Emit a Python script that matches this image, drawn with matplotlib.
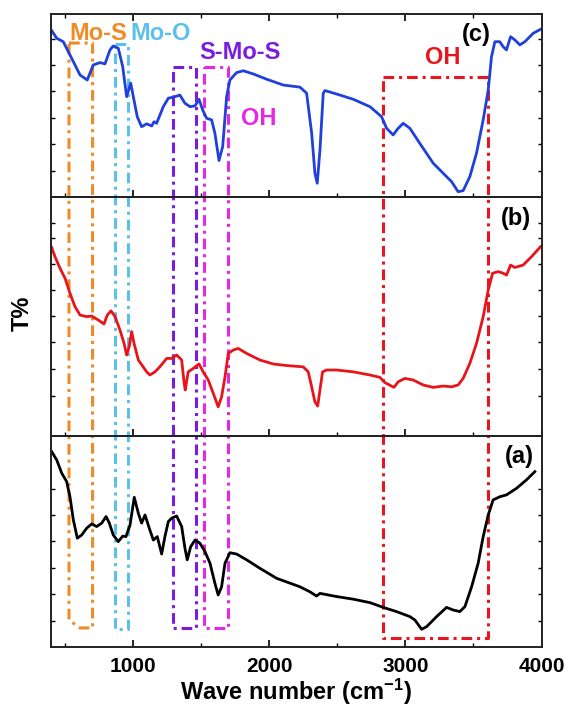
"""FTIR spectra (a), (b), (c) stacked, with band assignment boxes."""

import matplotlib

matplotlib.use("Agg")  # headless
import matplotlib.pyplot as plt  # noqa: E402
from matplotlib.lines import Line2D  # noqa: E402

plt.rcParams["font.family"] = ["Liberation Sans", "DejaVu Sans"]
plt.rcParams["font.weight"] = "bold"
plt.rcParams["axes.labelweight"] = "bold"
plt.rcParams["mathtext.default"] = "regular"

# --- spectrum (c), blue: wavenumber / transmittance (arb. units)
c_wn = [405, 442, 490, 539, 613, 666, 710, 760, 796, 833, 857, 894, 926, 955,
        985, 1004, 1033, 1065, 1102, 1139, 1156, 1175, 1224, 1261, 1297, 1346,
        1383, 1420, 1457, 1486, 1513, 1542, 1579, 1603, 1633, 1660, 1689, 1713,
        1762, 1811, 1884, 1983, 2104, 2227, 2276, 2313, 2337, 2354, 2374, 2398,
        2410, 2496, 2618, 2741, 2826, 2863, 2911, 2948, 2985, 3034, 3107, 3205,
        3278, 3340, 3388, 3425, 3474, 3523, 3572, 3609, 3633, 3658, 3694, 3719,
        3743, 3773, 3804, 3841, 3878, 3939, 3993]
c_t = [6.30, 6.01, 5.88, 5.38, 4.62, 4.43, 5.00, 5.09, 5.04, 5.57, 5.72, 5.63,
       4.94, 3.80, 4.31, 3.80, 3.04, 2.66, 2.77, 2.69, 2.85, 2.79, 3.42, 3.74,
       3.78, 3.86, 3.55, 3.42, 3.45, 3.70, 3.30, 2.98, 2.92, 2.41, 1.38, 1.91,
       3.80, 4.43, 4.71, 4.78, 4.66, 4.46, 4.24, 4.16, 3.93, 2.42, 0.90, 0.52,
       1.78, 3.93, 4.03, 3.90, 3.70, 3.42, 3.04, 2.60, 2.35, 2.60, 2.79, 2.60,
       2.03, 1.28, 0.90, 0.58, 0.20, 0.24, 0.77, 1.66, 2.92, 4.05, 5.31, 5.88,
       5.88, 5.69, 5.57, 6.07, 5.95, 5.76, 5.88, 6.20, 6.35]

# --- spectrum (b), red
b_wn = [405, 429, 466, 503, 539, 576, 613, 662, 699, 747, 789, 813, 840, 870,
        906, 936, 955, 974, 992, 1009, 1041, 1102, 1126, 1163, 1200, 1249, 1286,
        1322, 1359, 1376, 1385, 1407, 1444, 1486, 1517, 1554, 1591, 1627, 1652,
        1677, 1701, 1738, 1774, 1836, 1933, 2031, 2129, 2251, 2288, 2313, 2337,
        2357, 2374, 2393, 2423, 2496, 2618, 2741, 2814, 2851, 2917, 2948, 2997,
        3058, 3132, 3205, 3278, 3340, 3388, 3425, 3474, 3523, 3572, 3609, 3641,
        3682, 3719, 3743, 3773, 3804, 3865, 3927, 3993]
b_t = [7.17, 6.82, 6.38, 6.00, 5.43, 4.92, 4.60, 4.54, 4.56, 4.41, 4.26, 4.60,
       4.76, 4.54, 4.03, 3.53, 3.08, 3.40, 3.97, 3.53, 2.89, 2.44, 2.32, 2.44,
       2.64, 2.95, 2.95, 3.08, 2.89, 2.06, 1.75, 2.44, 2.57, 2.74, 2.44, 2.13,
       1.62, 1.11, 1.49, 2.25, 3.14, 3.27, 3.33, 3.14, 2.89, 2.74, 2.68, 2.63,
       2.44, 1.87, 1.30, 1.14, 1.75, 2.44, 2.51, 2.51, 2.44, 2.32, 2.23, 2.03,
       1.85, 2.06, 2.19, 2.13, 1.94, 1.85, 1.90, 1.87, 1.94, 2.19, 2.76, 3.52,
       4.54, 5.55, 6.19, 6.25, 6.19, 6.12, 6.50, 6.41, 6.50, 6.82, 7.20]

# --- spectrum (a), black
a_wn = [405, 442, 479, 515, 539, 564, 593, 625, 662, 699, 735, 772, 804, 828,
        857, 894, 926, 950, 980, 1011, 1041, 1065, 1090, 1121, 1151, 1180, 1212,
        1236, 1261, 1286, 1322, 1359, 1383, 1400, 1425, 1457, 1493, 1530, 1567,
        1603, 1627, 1652, 1677, 1713, 1762, 1836, 1933, 2056, 2227, 2300, 2349,
        2374, 2496, 2618, 2741, 2838, 2936, 3034, 3071, 3120, 3157, 3230, 3303,
        3352, 3401, 3438, 3487, 3535, 3572, 3609, 3645, 3694, 3743, 3817, 3890,
        3951]
a_t = [7.40, 7.08, 6.58, 6.26, 5.69, 4.81, 4.12, 4.24, 4.50, 4.66, 4.56, 4.69,
       4.94, 4.69, 4.24, 3.99, 4.20, 4.18, 4.62, 5.67, 5.06, 4.69, 5.00, 4.50,
       4.05, 4.18, 3.52, 4.18, 4.75, 4.88, 4.96, 4.56, 3.74, 3.30, 3.80, 4.05,
       3.93, 3.61, 3.17, 2.41, 1.97, 2.28, 3.17, 3.57, 3.52, 3.30, 2.98, 2.60,
       2.28, 2.09, 1.93, 2.03, 1.91, 1.81, 1.68, 1.50, 1.34, 1.15, 1.02, 0.67,
       0.77, 1.15, 1.50, 1.40, 1.34, 1.53, 2.28, 3.17, 4.18, 5.00, 5.57, 5.69,
       5.76, 6.01, 6.33, 6.64]

# y ticks of each panel (unlabelled, as in the original)
c_yticks = [1, 2, 3, 4, 5, 6]
b_yticks = [1.52, 2.55, 3.57, 4.56, 5.55, 6.54, 7.53, 8.10]
a_yticks = [1, 2, 3, 4, 5, 6]

# band assignment boxes: wavenumber span, top in panel (c), bottom in panel (a)
box_names = ["Mo-S", "Mo-O", "S-Mo-S", "OH", "OH"]
box_left = [532, 866, 1296, 1520, 2836]
box_right = [705, 963, 1462, 1700, 3606]
box_top = [5.83, 5.80, 4.92, 4.92, 4.55]
box_bottom = [0.72, 0.68, 0.72, 0.72, 0.34]
# the Mo-S box has a slanted lower-left corner
box_corner_wn = [613, 866, 1296, 1520, 2836]
box_corner_t = [1.02, 0.68, 0.72, 0.72, 0.34]
box_colors = ["#F08A24", "#5BC0EB", "#7A1CE0", "#E628E6", "#E8141E"]
# label anchor (wavenumber, panel (c) units)
label_wn = [745, 1205, 1787, 1926, 3276]
label_t = [6.21, 6.21, 5.49, 2.99, 5.30]

L, W = 0.0895, 0.8605
DASHDOT = (0, (3.5, 1.6, 1, 1.6))


def _style(ax, ylim, yticks, top=False, labels=False):
    ax.set_facecolor("none")
    ax.set_xlim(400, 4000)
    ax.set_ylim(*ylim)
    ax.set_yticks(yticks)
    ax.set_xticks([1000, 2000, 3000, 4000])
    ax.set_xticks([500, 1500, 2500, 3500], minor=True)
    ax.tick_params(axis="y", which="both", direction="in", left=True,
                   right=True, length=3, width=1, labelleft=False)
    ax.tick_params(axis="x", which="major", direction="in", length=5,
                   width=1.2, top=top, bottom=True, labelbottom=labels,
                   labelsize=15, pad=7)
    ax.tick_params(axis="x", which="minor", direction="in", length=3,
                   width=1, top=top, bottom=True)
    for s in ax.spines.values():
        s.set_linewidth(1.4)
        s.set_color("#222222")


fig = plt.figure(figsize=(5.7, 7.07), dpi=100)
ax_c = fig.add_axes([L, 0.7214, W, 0.2588])
ax_b = fig.add_axes([L, 0.3833, W, 0.3381])
ax_a = fig.add_axes([L, 0.0849, W, 0.2984])

ax_c.plot(c_wn, c_t, color="#2040DC", lw=2.0)
ax_b.plot(b_wn, b_t, color="#E8141A", lw=2.0)
ax_a.plot(a_wn, a_t, color="black", lw=2.0)

_style(ax_c, (0, 6.93), c_yticks, top=True)
_style(ax_b, (0, 9.09), b_yticks)
_style(ax_a, (0, 7.99), a_yticks, labels=True)

ax_a.set_xlabel("Wave number (cm$^{-1}$)", fontsize=17, labelpad=1)
fig.text(22 / 570, 1 - 313 / 707, "T%", rotation=90, fontsize=17,
         ha="center", va="center")

ax_c.text(3522, 6.14, "(c)", fontsize=17, ha="center", va="center")
ax_b.text(3815, 8.29, "(b)", fontsize=17, ha="center", va="center")
ax_a.text(3834, 7.20, "(a)", fontsize=17, ha="center", va="center")

# boxes span all three panels, so draw them in figure coordinates
to_fig = fig.transFigure.inverted()
for xl, xr, yt, yb, xk, yk, col in zip(box_left, box_right, box_top,
                                       box_bottom, box_corner_wn,
                                       box_corner_t, box_colors):
    x0, y1 = to_fig.transform(ax_c.transData.transform((xl, yt)))
    x1, y0 = to_fig.transform(ax_a.transData.transform((xr, yb)))
    xk, _ = to_fig.transform(ax_a.transData.transform((xk, yb)))
    _, yk = to_fig.transform(ax_a.transData.transform((xl, yk)))
    fig.add_artist(Line2D([x0, x1, x1, xk, x0, x0],
                          [y1, y1, y0, y0, yk, y1],
                          transform=fig.transFigure, color=col, lw=2.2,
                          ls=DASHDOT, zorder=-1))

for name, wn, t, col in zip(box_names, label_wn, label_t, box_colors):
    ax_c.text(wn, t, name, color=col, fontsize=17, ha="center", va="center")

fig.savefig("out.png", dpi=100)
plt.close(fig)
